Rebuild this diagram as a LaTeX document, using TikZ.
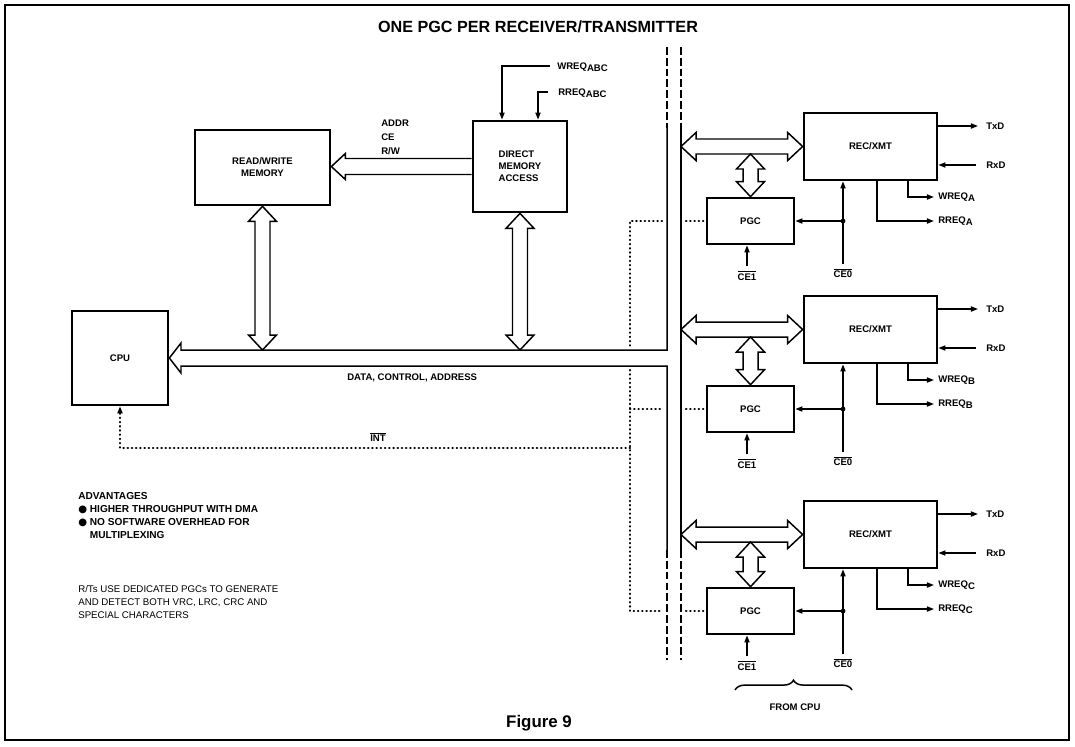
\documentclass[tikz,border=0pt]{standalone}
\usepackage{fontspec}
\setmainfont{Liberation Sans}
\newfontfamily\dingfont{DejaVu Sans}
\usetikzlibrary{positioning,arrows.meta,calc,decorations.pathreplacing}
\newcommand{\sbs}[1]{\raisebox{-0.45ex}{#1}}
\newcommand{\ovl}[1]{$\overline{\mbox{#1}}$}

\begin{document}
\begin{tikzpicture}[
  x=0.025cm, y=-0.025cm,
  font=\fontsize{6.8}{8.5}\selectfont\bfseries,
  block/.style={draw, line width=1.9pt, inner sep=0pt, align=center},
  wire/.style={line width=1.05pt},
  sig/.style={wire, -{Triangle[length=5pt,width=3.6pt]}},
  bus/.style={line width=1.05pt, line join=miter},
  busdash/.style={line width=1.05pt, dash pattern=on 5.5pt off 2.2pt},
  dotline/.style={line width=1.6pt, line cap=round, dash pattern=on 0.3pt off 2.7pt},
  lbl/.style={inner sep=0pt},
  dblh/.style={to path={(\tikztostart) -- ++(15,-14) -- ++(0,6.5) -- ($(\tikztotarget)+(-15,-7.5)$) -- ++(0,-6.5) -- (\tikztotarget) -- ++(-15,14) -- ++(0,-6.5) -- ($(\tikztostart)+(15,7.5)$) -- ++(0,6.5) -- cycle}},
  dblv/.style={to path={(\tikztostart) -- ++(14,15) -- ++(-6.5,0) -- ($(\tikztotarget)+(7.5,-15)$) -- ++(6.5,0) -- (\tikztotarget) -- ++(-14,-15) -- ++(6.5,0) -- ($(\tikztostart)+(-7.5,15)$) -- ++(-6.5,0) -- cycle}},
  singh/.style={to path={($(\tikztostart)+(0,-8)$) -- ($(\tikztotarget)+(14,-8)$) -- ++(0,-5) -- (\tikztotarget) -- ++(14,13) -- ++(0,-5) -- ($(\tikztostart)+(0,8)$)}}
]
\useasboundingbox (0,0) rectangle (1075,746);
% frame and title
\draw[line width=0.8pt] (5,5) rectangle (1069,740);
\draw[line width=1.8pt] (5,740) -- (1069,740);
\node (title) at (538,27) {\fontsize{11.5}{14}\selectfont ONE PGC PER RECEIVER/TRANSMITTER};

% left side blocks
\node[block, minimum width=2.4cm, minimum height=2.35cm] (cpu) at (120,358) {CPU};
\node[block, minimum width=3.375cm, minimum height=1.875cm] (rwmem) at (262.5,167.5) {READ/WRITE\\MEMORY};
\node[block, minimum width=2.35cm, minimum height=2.275cm, align=left] (dma) at (520,166.5) {DIRECT\\MEMORY\\ACCESS};

% DMA requests
\coordinate (wabc) at (550,66);
\coordinate (rabc) at (548,92);
\draw[sig] (wabc) -| ($(dma.north)+(-18,0)$);
\draw[sig] (rabc) -| ($(dma.north)+(18,0)$);
\node[lbl, anchor=west] (wabcl) at (557,67) {WREQ\sbs{ABC}};
\node[lbl, anchor=west] (rabcl) at (558,93) {RREQ\sbs{ABC}};

% address lines
\coordinate (adrs) at (dma.west);
\coordinate (adrt) at (rwmem.east |- dma.west);
\draw[bus] (adrs) to[singh] (adrt);
\node[lbl, anchor=west, align=left, font=\fontsize{6.8}{10}\selectfont\bfseries] (adrl) at (381,137) {ADDR\\CE\\R/W};

% system bus
\coordinate (busy) at (0,350);
\coordinate (lt) at (667,128);
\coordinate (lb) at (667,550);
\coordinate (rt) at (681,130);
\coordinate (rb) at (681,550);
\draw[bus] (lt) -- (667,350) -- (181,350) -- (181,343) -- (cpu.east) -- (181,373) -- (181,366) -- (667,366) -- (lb);
\draw[bus] (rt) -- (rb);
\draw[busdash] (667,47) -- (lt) (681,47) -- (rt) (lb) -- (667,660) (rb) -- (681,660);
\coordinate (rwb) at (rwmem.south |- busy);
\coordinate (dmab) at (dma.south |- busy);
\draw[bus] (rwmem.south) to[dblv] (rwb);
\draw[bus] (dma.south) to[dblv] (dmab);
\node[lbl, anchor=west] (datal) at (347,378) {DATA, CONTROL, ADDRESS};

% receiver/transmitter groups
\foreach \g/\rt/\pt in {A/113/198, B/296/386, C/501/588} {
  \node[block, minimum width=3.325cm, minimum height=1.675cm] (rec\g) at (870.5,\rt+33.5) {REC/XMT};
  \node[block, minimum width=2.175cm, minimum height=1.15cm] (pgc\g) at (750.5,\pt+23) {PGC};
  \coordinate (bus\g) at (681,\rt+33.5);
  \coordinate (pv\g) at ($(pgc\g.north |- bus\g)+(0,7.5)$);
  \draw[bus] (bus\g) to[dblh] (rec\g.west);
  \draw[bus] (pv\g) to[dblv] (pgc\g.north);
  % serial lines and requests
  \coordinate (txd\g) at (978,\rt+13);
  \coordinate (rxd\g) at (976,\rt+52);
  \coordinate (wr\g) at (934,\rt+84);
  \coordinate (rr\g) at (934,\rt+108);
  \draw[sig] (rec\g.east |- txd\g) -- (txd\g);
  \draw[sig] (rxd\g) -- (rec\g.east |- rxd\g);
  \draw[sig] ($(rec\g.south)+(37.5,0)$) |- (wr\g);
  \draw[sig] ($(rec\g.south)+(6.5,0)$) |- (rr\g);
  \node[lbl, anchor=west] (txdl\g) at (986,\rt+13) {TxD};
  \node[lbl, anchor=west] (rxdl\g) at (986,\rt+52) {RxD};
  \node[lbl, anchor=west] (wrl\g) at (938,\rt+84) {WREQ\sbs{\g}};
  \node[lbl, anchor=west] (rrl\g) at (938,\rt+108) {RREQ\sbs{\g}};
  % chip enables
  \coordinate (ce0\g) at (843,\pt+66);
  \coordinate (jn\g) at (ce0\g |- pgc\g.east);
  \coordinate (ce1\g) at ($(pgc\g.south)+(-3.5,21)$);
  \draw[sig] (ce0\g) -- (ce0\g |- rec\g.south);
  \draw[sig] (jn\g) -- (pgc\g.east);
  \fill (jn\g) circle[radius=1.7pt];
  \draw[sig] (ce1\g) -- (ce1\g |- pgc\g.south);
  \node[lbl, anchor=north] (ce0l\g) at ($(ce0\g)+(0,4)$) {\ovl{CE0}};
  \node[lbl, anchor=north] (ce1l\g) at ($(ce1\g)+(0,4)$) {\ovl{CE1}};
  % dotted select lines
  \coordinate (dl\g) at (662,\pt+23);
  \coordinate (dv\g) at (630,\pt+23);
  \coordinate (dr\g) at (686,\pt+23);
  \draw[dotline] (dr\g) -- (pgc\g.west);
}
\coordinate (dgap1) at (630,347);
\coordinate (dgap2) at (630,370);
\draw[dotline] (dlA) -- (dvA) -- (dgap1);
\draw[dotline] (dgap2) -- (dvC) -- (dlC);
\draw[dotline] (dvB) -- (dlB);

% interrupt
\coordinate (intc) at (630,448);
\draw[dotline, -{Triangle[length=5pt,width=3.6pt]}] (intc) -| (cpu.south);
\node[lbl] (intl) at (378,437) {\ovl{INT}};

% from cpu brace
\coordinate (brl) at (735,690);
\coordinate (brr) at (852,690);
\draw[wire, decorate, decoration={brace, amplitude=7pt}] (brl) -- (brr);
\node[lbl] (fromcpu) at (795,707) {FROM CPU};

% notes
\node[lbl, anchor=north west, align=left, font=\fontsize{7.2}{9.2}\selectfont\bfseries] (adv) at (78,492) {ADVANTAGES\\{\dingfont ●} HIGHER THROUGHPUT WITH DMA\\{\dingfont ●} NO SOFTWARE OVERHEAD FOR\\\hphantom{{\dingfont ●} }MULTIPLEXING};
\node[lbl, anchor=north west, align=left, font=\fontsize{6.9}{9.3}\selectfont] (rts) at (78,585) {R/Ts USE DEDICATED PGCs TO GENERATE\\AND DETECT BOTH VRC, LRC, CRC AND\\SPECIAL CHARACTERS};

\node (fig) at (539,723) {\fontsize{12}{14}\selectfont Figure 9};
\end{tikzpicture}
\end{document}
